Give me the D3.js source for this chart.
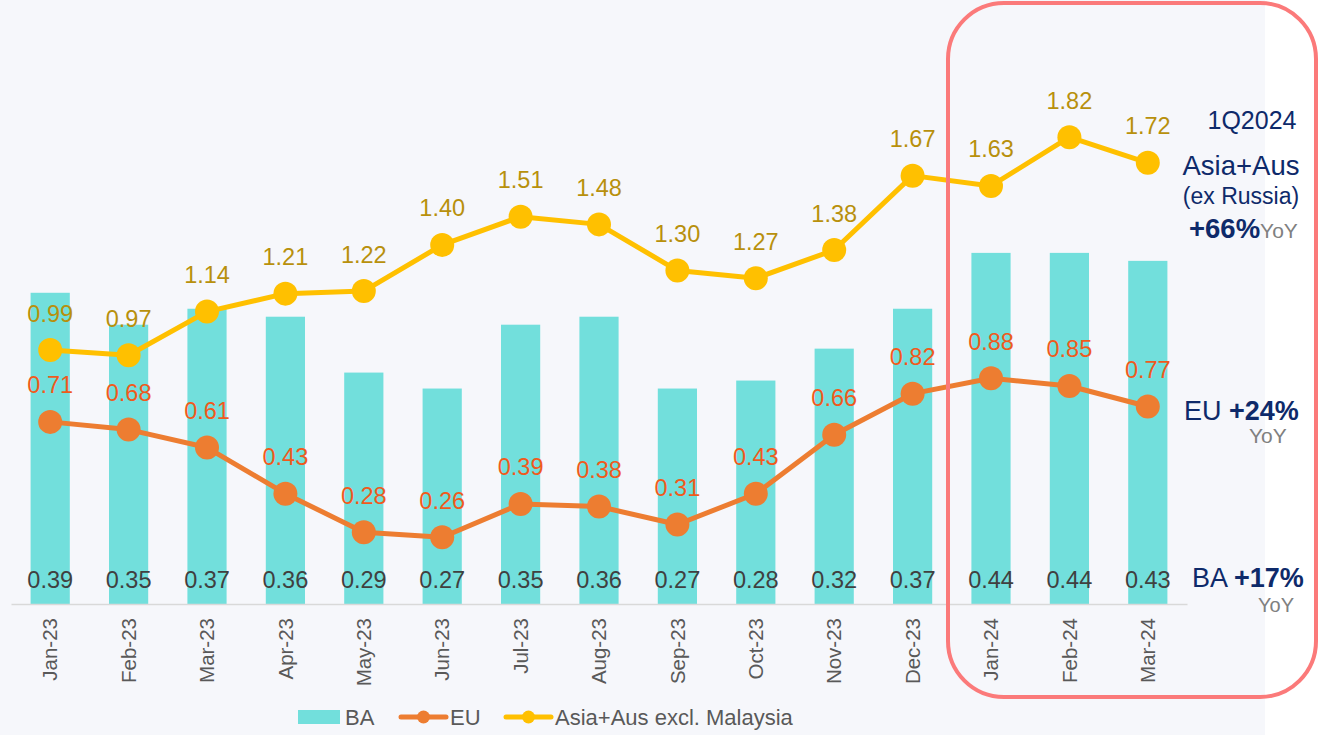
<!DOCTYPE html>
<html><head><meta charset="utf-8">
<script src="https://cdn.jsdelivr.net/npm/d3@7"></script>
<style>html,body{margin:0;padding:0;background:#fff;}svg{display:block;font-family:Arial,"Liberation Sans",sans-serif;}</style>
</head><body>
<svg id="c" width="1320" height="735"></svg>
<script>
const categories = ["Jan-23","Feb-23","Mar-23","Apr-23","May-23","Jun-23","Jul-23","Aug-23","Sep-23","Oct-23","Nov-23","Dec-23","Jan-24","Feb-24","Mar-24"];
const baValues = [0.39,0.35,0.37,0.36,0.29,0.27,0.35,0.36,0.27,0.28,0.32,0.37,0.44,0.44,0.43];
const euValues = [0.71,0.68,0.61,0.43,0.28,0.26,0.39,0.38,0.31,0.43,0.66,0.82,0.88,0.85,0.77];
const asiaValues = [0.99,0.97,1.14,1.21,1.22,1.40,1.51,1.48,1.30,1.27,1.38,1.67,1.63,1.82,1.72];
const seriesNames = ["BA","EU","Asia+Aus excl. Malaysia"];

const svg = d3.select("#c");
svg.append("rect").attr("x",0).attr("y",0).attr("width",1265).attr("height",735).attr("fill","#f6f7fb");

const x = d3.scaleBand().domain(categories).range([11,1187]).paddingInner(0.5).paddingOuter(0.25);
const yBar = d3.scaleLinear().domain([0,0.5]).range([604,205]);
const yLine = d3.scaleLinear().domain([0,2]).range([604,91]);
const cx = d => x(d) + x.bandwidth()/2;

const C = {ba:"#72dfdc", eu:"#ed7d31", asia:"#ffc000", euLab:"#f05a1c", asiaLab:"#b8900c", baLab:"#404040", navy:"#0e2a6a", grey:"#808080"};

// bars
svg.append("g").selectAll("rect").data(categories).join("rect")
  .attr("x", d=>x(d)).attr("width", x.bandwidth())
  .attr("y", (d,i)=>yBar(baValues[i])).attr("height",(d,i)=>yBar(0)-yBar(baValues[i]))
  .attr("fill", C.ba);

// x axis
const xAxis = svg.append("g").attr("transform","translate(0,604)")
  .call(d3.axisBottom(x).tickSize(0).tickSizeOuter(0));
xAxis.select(".domain").attr("stroke","#d9d9d9").attr("stroke-width",1.5);
xAxis.selectAll("text").attr("font-size",20.5).attr("fill","#595959")
  .attr("transform","rotate(-90)").attr("text-anchor","end")
  .attr("x",-14).attr("y",0).attr("dy","0.35em");

// bar labels
svg.append("g").selectAll("text").data(categories).join("text")
  .attr("x", d=>cx(d)).attr("y", 588).attr("text-anchor","middle")
  .attr("font-size",23.5).attr("fill",C.baLab).text((d,i)=>baValues[i].toFixed(2));

function drawLine(vals, color, labColor){
  const line = d3.line().x((d,i)=>cx(categories[i])).y(d=>yLine(d));
  svg.append("path").datum(vals).attr("d",line).attr("fill","none")
    .attr("stroke",color).attr("stroke-width",5).attr("stroke-linejoin","round");
  svg.append("g").selectAll("circle").data(vals).join("circle")
    .attr("cx",(d,i)=>cx(categories[i])).attr("cy",d=>yLine(d)).attr("r",12).attr("fill",color);
  svg.append("g").selectAll("text").data(vals).join("text")
    .attr("x",(d,i)=>cx(categories[i])).attr("y",d=>yLine(d)-28.5).attr("text-anchor","middle")
    .attr("font-size",23.5).attr("fill",labColor).text(d=>d.toFixed(2));
}
drawLine(asiaValues, C.asia, C.asiaLab);
drawLine(euValues, C.eu, C.euLab);

// highlight box
svg.append("rect").attr("x",948).attr("y",3).attr("width",368).attr("height",694)
  .attr("rx",56).attr("ry",56).attr("fill","none").attr("stroke","#fb7a7a").attr("stroke-width",4);

// right annotations
const ann = svg.append("g");
ann.append("text").attr("x",1252).attr("y",129).attr("text-anchor","middle").attr("font-size",25).attr("fill",C.navy).text("1Q2024");
ann.append("text").attr("x",1241).attr("y",175).attr("text-anchor","middle").attr("font-size",27.5).attr("fill",C.navy).text("Asia+Aus");
ann.append("text").attr("x",1241).attr("y",204).attr("text-anchor","middle").attr("font-size",23).attr("fill",C.navy).text("(ex Russia)");
const t1 = ann.append("text").attr("x",1189).attr("y",238).attr("font-size",27.5);
t1.append("tspan").attr("font-weight","bold").attr("fill",C.navy).text("+66%");
t1.append("tspan").attr("font-size",21).attr("fill",C.grey).text("YoY");

const t2 = ann.append("text").attr("x",1184).attr("y",420).attr("font-size",27);
t2.append("tspan").attr("fill",C.navy).text("EU ");
t2.append("tspan").attr("font-weight","bold").attr("fill",C.navy).text("+24%");
ann.append("text").attr("x",1249).attr("y",443).attr("font-size",21).attr("fill",C.grey).text("YoY");

const t3 = ann.append("text").attr("x",1192).attr("y",587).attr("font-size",27);
t3.append("tspan").attr("fill",C.navy).text("BA ");
t3.append("tspan").attr("font-weight","bold").attr("fill",C.navy).text("+17%");
ann.append("text").attr("x",1258).attr("y",612).attr("font-size",20).attr("fill",C.grey).text("YoY");

// legend
const lg = svg.append("g");
const ly = 717;
lg.append("rect").attr("x",298).attr("y",ly-7).attr("width",42).attr("height",14).attr("fill",C.ba);
lg.append("text").attr("x",345).attr("y",ly+8).attr("font-size",22).attr("fill","#595959").text(seriesNames[0]);
lg.append("line").attr("x1",401).attr("x2",446).attr("y1",ly).attr("y2",ly).attr("stroke",C.eu).attr("stroke-width",5).attr("stroke-linecap","round");
lg.append("circle").attr("cx",423.5).attr("cy",ly).attr("r",6.5).attr("fill",C.eu);
lg.append("text").attr("x",450).attr("y",ly+8).attr("font-size",22).attr("fill","#595959").text(seriesNames[1]);
lg.append("line").attr("x1",506).attr("x2",551).attr("y1",ly).attr("y2",ly).attr("stroke",C.asia).attr("stroke-width",5).attr("stroke-linecap","round");
lg.append("circle").attr("cx",528.5).attr("cy",ly).attr("r",6.5).attr("fill",C.asia);
lg.append("text").attr("x",555).attr("y",ly+8).attr("font-size",22).attr("fill","#595959").text(seriesNames[2]);
</script>
</body></html>
